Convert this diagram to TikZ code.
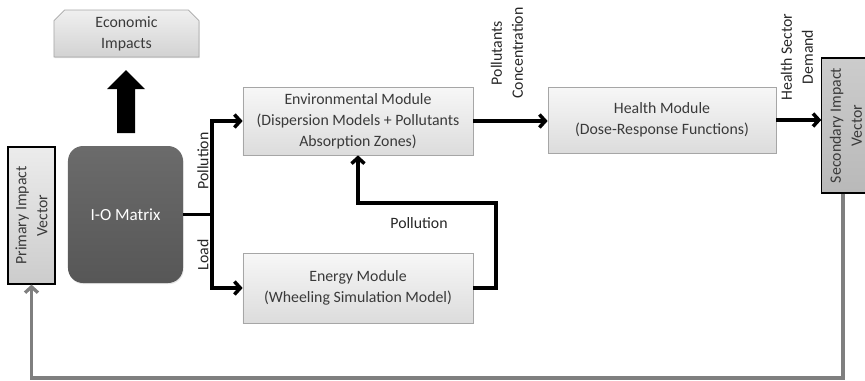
\documentclass[tikz,border=0pt]{standalone}
\usepackage{fontspec}
\setmainfont{Carlito}
\usetikzlibrary{arrows.meta,shapes.misc,shadows}
\definecolor{boxtop}{HTML}{F7F7F7}
\definecolor{boxbot}{HTML}{DCDCDC}
\definecolor{txtgray}{HTML}{3A3A3A}
\definecolor{fbgray}{HTML}{7F7F7F}
\begin{document}
\begin{tikzpicture}[x=0.03cm,y=-0.03cm,
	font=\fontsize{13.5}{18}\selectfont,
	module/.style={draw=gray!70, line width=0.6pt, top color=boxtop, bottom color=boxbot,
		text=txtgray, align=center, inner sep=2pt,
		drop shadow={opacity=0.25, shadow xshift=0.6pt, shadow yshift=-1pt}},
	vect/.style={draw=black, line width=1pt, align=center, text=txtgray, rotate=90, inner sep=1pt},
	lbl/.style={text=black!85, align=center, inner sep=0pt},
	arr/.style={line width=3pt, -{Straight Barb[length=5pt,width=11pt]}},
	thickline/.style={line width=3pt},
	fbarr/.style={draw=fbgray, line width=2.8pt, -{Straight Barb[length=5pt,width=11pt]}}]
	\useasboundingbox (0,0) rectangle (865,380);
	
	\node	(eco) at (126.5,33.5) [module, chamfered rectangle, chamfered rectangle corners={north west,north east},
		chamfered rectangle xsep=0.21cm, minimum width=4.35cm, minimum height=1.41cm,
		top color=gray!12, bottom color=gray!35] {Economic\\Impacts};
	\node	(io) at (125.5,214.5) [rounded corners=0.45cm, minimum width=3.45cm, minimum height=4.11cm,
		top color=black!58, bottom color=black!66, text=white, font=\fontsize{14.5}{18}\selectfont,
		drop shadow={opacity=0.2, shadow xshift=0.6pt, shadow yshift=-1pt}] {I-O Matrix};
	\node	(prim) at (31.5,215.5) [vect, minimum width=4.11cm, minimum height=1.41cm,
		top color=gray!15, bottom color=gray!40] {Primary Impact\\Vector};
	\node	(env) at (358,121) [module, minimum width=6.9cm, minimum height=2.04cm]
		{Environmental Module\\(Dispersion Models + Pollutants\\Absorption Zones)};
	\node	(hm) at (662,120) [module, minimum width=6.84cm, minimum height=1.98cm]
		{Health Module\\(Dose-Response Functions)};
	\node	(en) at (358,288) [module, minimum width=6.9cm, minimum height=2.1cm]
		{Energy Module\\(Wheeling Simulation Model)};
	\node	(sec) at (846,125.5) [vect, minimum width=4.05cm, minimum height=1.45cm,
		top color=gray!40, bottom color=gray!55] {Secondary Impact\\Vector};
	
	% labels
	\node	(lpol) at (203,161) [lbl, rotate=90] {Pollution};
	\node	(lload) at (203,255) [lbl, rotate=90] {Load};
	\node	(lconc) at (507,53) [lbl, rotate=90] {Pollutants\\Concentration};
	\node	(ldem) at (797,57) [lbl, rotate=90] {Health Sector\\Demand};
	\node	(lpol2) at (419,223) [lbl] {Pollution};
	
	% big arrow to economic impacts
	\fill (117,133) -- (117,89) -- (107,89) -- (126,70) -- (145,89) -- (135,89) -- (135,133) -- cycle;
	
	\coordinate (sp) at (212,214.5);
	\coordinate (lp) at (496,203);
	\coordinate (c1) at (843,378);
	\coordinate (c2) at (31.5,378);
	
	\draw[thickline] (io.east) -- (sp);
	\draw[arr] (sp) |- (env.west);
	\draw[arr] (sp) |- (en.west);
	\draw[arr] (env.east) -- (env.east -| hm.west);
	\draw[arr] (hm.east) -- (hm.east -| sec.north);
	\draw[arr] (en.east) -| (lp) -| (env.south);
	\draw[fbarr] (sec.west -| c1) -- (c1) -- (c2) -- (prim.west);
\end{tikzpicture}
\end{document}
